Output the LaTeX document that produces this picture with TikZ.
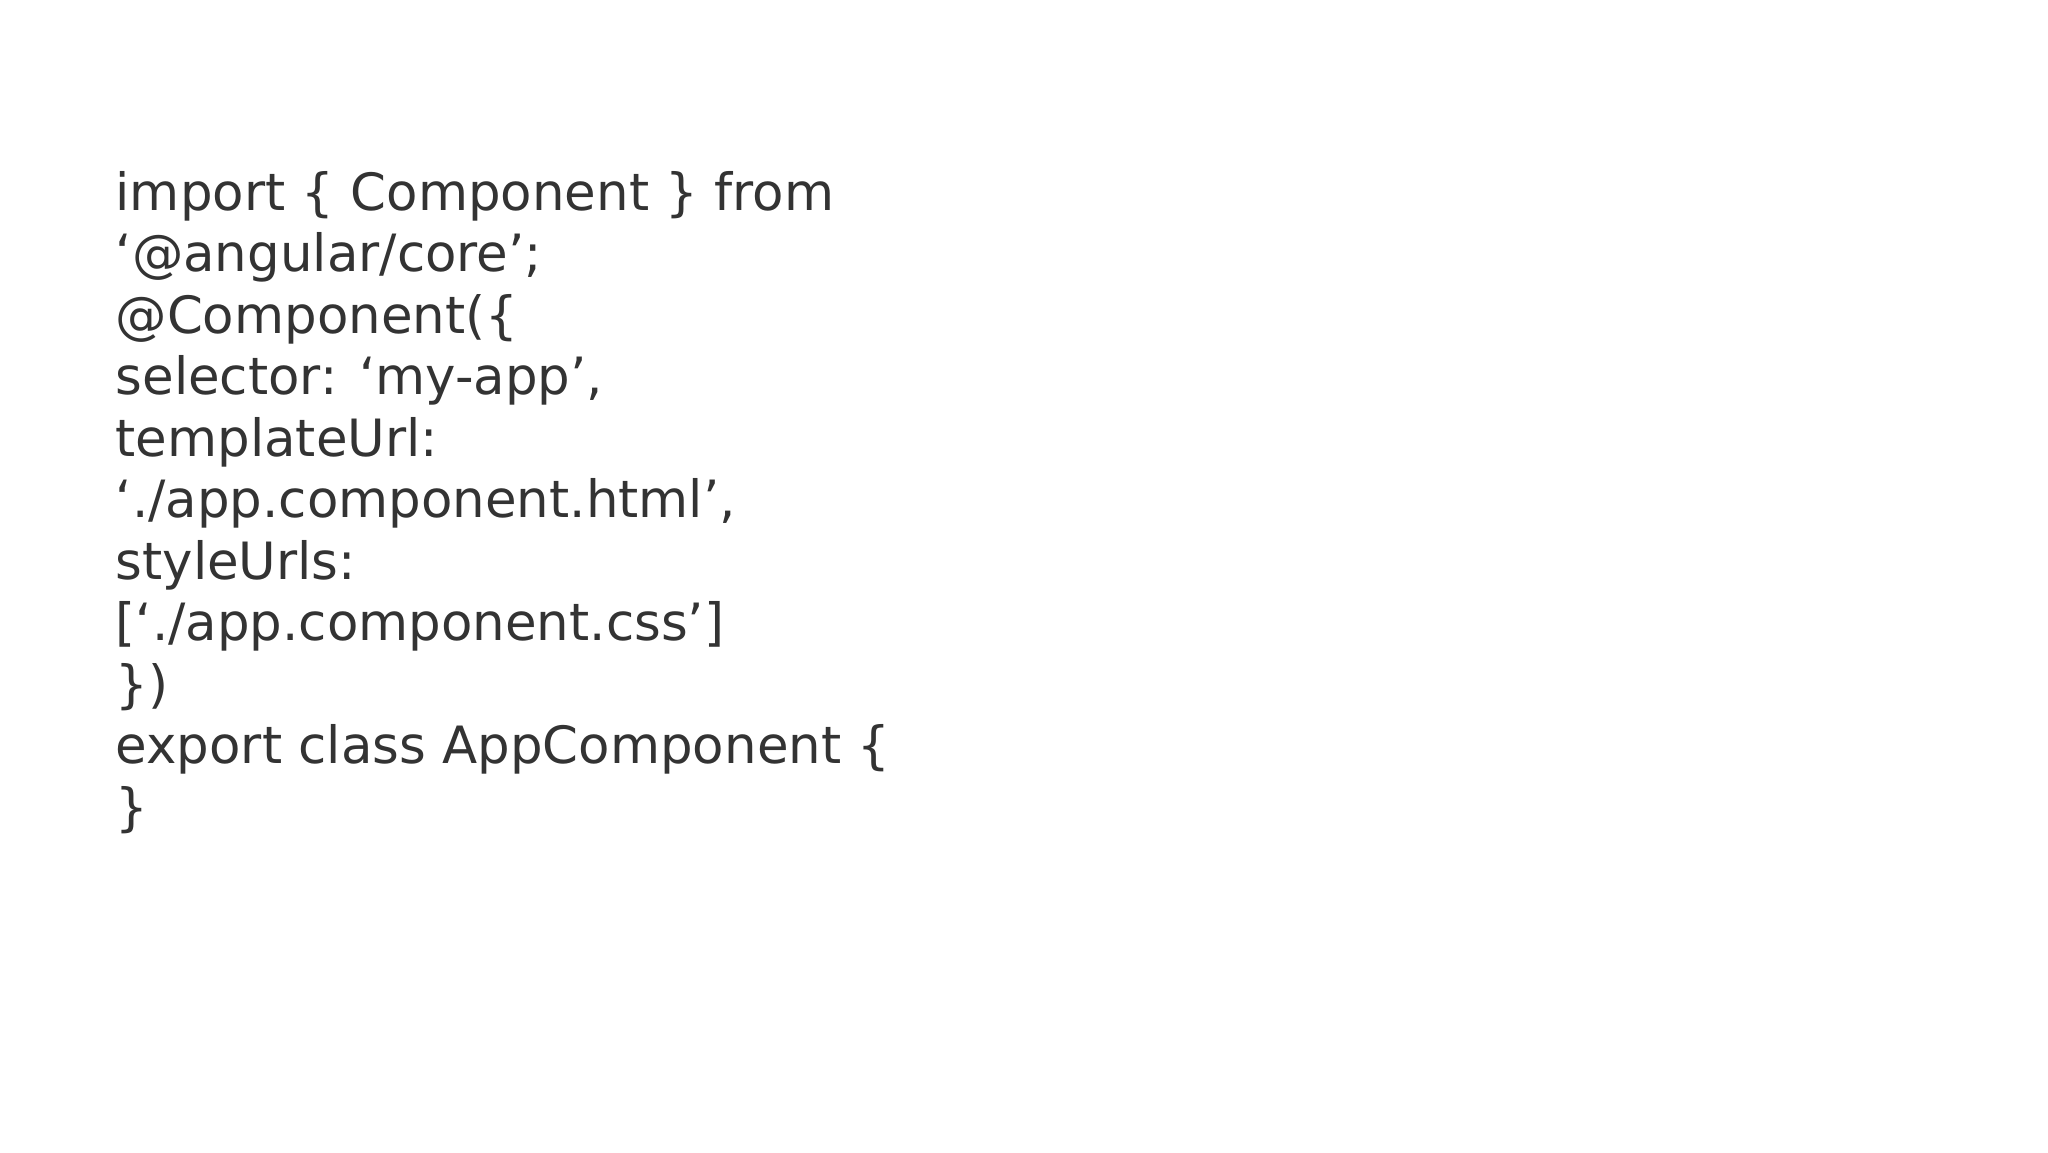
\documentclass[tikz,border=0pt]{standalone}
\usepackage{fontspec}
\setmainfont{DejaVu Sans}
\usepackage{tikz}
\definecolor{codegray}{RGB}{51, 51, 51}

\begin{document}
\begin{tikzpicture}[x=1pt, y=-1pt,
  codeline/.style={anchor=base west, inner sep=0pt, text=codegray, font=\fontsize{51.4}{61.5}\selectfont}
]
  \useasboundingbox (0,0) rectangle (2048,1152);
  \foreach \ln [count=\i] in {
    {import \{ Component \} from},
    {‘@angular/core’;},
    {@Component(\{},
    {selector: ‘my-app’,},
    {templateUrl:},
    {‘./app.component.html’,},
    {styleUrls:},
    {[‘./app.component.css’]},
    {\})},
    {export class AppComponent \{},
    {\}}}
    \node[codeline] (l\i) at (115.5, {210 + (\i-1)*61.5}) {\ln};
\end{tikzpicture}
\end{document}
